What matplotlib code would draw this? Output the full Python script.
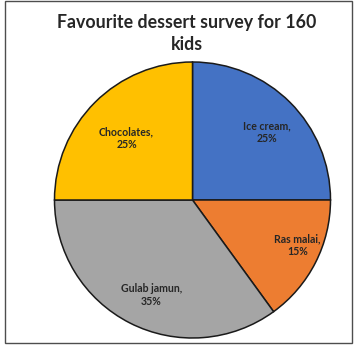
import matplotlib
matplotlib.use("Agg")
import matplotlib.pyplot as plt
from matplotlib.patches import Rectangle

# Data
categories = ["Ice cream", "Ras malai", "Gulab jamun", "Chocolates"]
percents = [25, 15, 35, 25]
colors = ["#4472C4", "#ED7D31", "#A5A5A5", "#FFC000"]
title = "Favourite dessert survey for 160\nkids"

# Layout (label centres in axes data units, pie radius = 1)
label_pos = [(0.536, 0.493), (0.761, -0.326), (-0.297, -0.688), (-0.478, 0.449)]

W, H = 354, 349
fig = plt.figure(figsize=(W / 100, H / 100), dpi=100)
fig.patch.set_facecolor("white")

cx, cy, r = 192.5, 200.0, 138.0
ax = fig.add_axes([(cx - r) / W, (H - cy - r) / H, 2 * r / W, 2 * r / H])
wedges, _ = ax.pie(percents, colors=colors, startangle=90, counterclock=False,
                   radius=1.0,
                   wedgeprops=dict(edgecolor="#1a1a1a", linewidth=1.1))
ax.set_xlim(-1, 1)
ax.set_ylim(-1, 1)
ax.set_aspect("equal")
ax.axis("off")

for cat, p, (x, y) in zip(categories, percents, label_pos):
    ax.text(x, y, f"{cat},\n{p}%", ha="center", va="center",
            fontsize=7.6, fontweight="bold", family=["Lato", "DejaVu Sans"],
            color="#262626", linespacing=1.15)

fig.text(187 / W, 1 - 33.5 / H, title, ha="center", va="center",
         fontsize=12.8, fontweight="bold", family=["Lato", "DejaVu Sans"],
         color="#262626", linespacing=1.3)

fig.patches.append(Rectangle((5 / W, 1 - 343 / H), 347 / W, 342 / H,
                             transform=fig.transFigure, fill=False,
                             edgecolor="#4d4d4d", linewidth=1.0))

fig.savefig("out.png", dpi=100)
